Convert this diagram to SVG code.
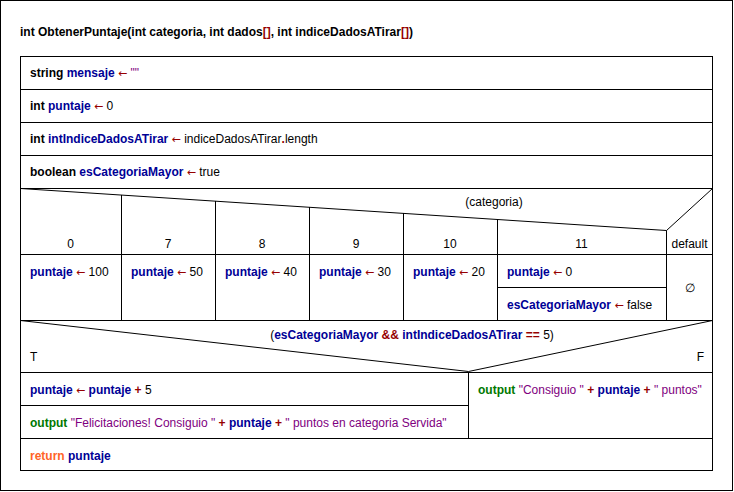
<svg xmlns="http://www.w3.org/2000/svg" width="734" height="492" viewBox="0 0 734 492">
<style>
.ln{fill:none;stroke:#000;stroke-width:1}
text{font-family:"Liberation Sans",Arial,sans-serif;font-size:12px;fill:#000}
.b{font-weight:bold}
.v{fill:#000096;font-weight:bold}
.op{fill:#960000;font-weight:bold}
.ar{fill:#960000;font-family:"DejaVu Sans",sans-serif;font-size:11px}
.s{fill:#800080}
.o{fill:#007800;font-weight:bold}
.r{fill:#FF6428;font-weight:bold}
.c{text-anchor:middle}
</style>
<rect x="0" y="0" width="734" height="492" fill="#fff"/>
<rect class="ln" x="0.5" y="0.5" width="732" height="490"/>
<g id="title">
<text x="20" y="36" class="b">int ObtenerPuntaje(int categoria, int dados<tspan class="op">[]</tspan>, int indiceDadosATirar<tspan class="op">[]</tspan>)</text>
</g>
<g id="frame">
<rect class="ln" x="20.5" y="56.5" width="692" height="414"/>
</g>
<g id="s1">
<line class="ln" x1="20" y1="89.5" x2="713" y2="89.5"/>
<text x="30" y="77"><tspan class="b">string </tspan><tspan class="v">mensaje</tspan> <tspan class="ar">←</tspan> <tspan class="s">""</tspan></text>
</g>
<g id="s2">
<line class="ln" x1="20" y1="122.5" x2="713" y2="122.5"/>
<text x="30" y="110"><tspan class="b">int </tspan><tspan class="v">puntaje</tspan> <tspan class="ar">←</tspan> 0</text>
</g>
<g id="s3">
<line class="ln" x1="20" y1="155.5" x2="713" y2="155.5"/>
<text x="30" y="143"><tspan class="b">int </tspan><tspan class="v">intIndiceDadosATirar</tspan> <tspan class="ar">←</tspan> indiceDadosATirar<tspan class="op">.</tspan>length</text>
</g>
<g id="s4">
<line class="ln" x1="20" y1="188.5" x2="713" y2="188.5"/>
<text x="30" y="176"><tspan class="b">boolean </tspan><tspan class="v">esCategoriaMayor</tspan> <tspan class="ar">←</tspan> true</text>
</g>
<g id="switch">
<polyline class="ln" points="20.5,188.5 666.5,230.5 712.5,188.5"/>
<line class="ln" x1="666.5" y1="230.5" x2="666.5" y2="320"/>
<line class="ln" x1="20" y1="254.5" x2="713" y2="254.5"/>
<line class="ln" x1="20" y1="320.5" x2="713" y2="320.5"/>
<line class="ln" x1="121.5" y1="195" x2="121.5" y2="320"/>
<line class="ln" x1="215.5" y1="201" x2="215.5" y2="320"/>
<line class="ln" x1="309.5" y1="207" x2="309.5" y2="320"/>
<line class="ln" x1="403.5" y1="213" x2="403.5" y2="320"/>
<line class="ln" x1="497.5" y1="219.5" x2="497.5" y2="320"/>
<line class="ln" x1="497" y1="287.5" x2="666" y2="287.5"/>
<text x="494" y="206" class="c">(categoria)</text>
<text x="70.5" y="248" class="c">0</text>
<text x="168" y="248" class="c">7</text>
<text x="262" y="248" class="c">8</text>
<text x="356" y="248" class="c">9</text>
<text x="450" y="248" class="c">10</text>
<text x="581.5" y="248" class="c">11</text>
<text x="689.5" y="248" class="c">default</text>
<text x="30" y="276"><tspan class="v">puntaje</tspan> <tspan class="ar">←</tspan> 100</text>
<text x="131" y="276"><tspan class="v">puntaje</tspan> <tspan class="ar">←</tspan> 50</text>
<text x="225" y="276"><tspan class="v">puntaje</tspan> <tspan class="ar">←</tspan> 40</text>
<text x="319" y="276"><tspan class="v">puntaje</tspan> <tspan class="ar">←</tspan> 30</text>
<text x="413" y="276"><tspan class="v">puntaje</tspan> <tspan class="ar">←</tspan> 20</text>
<text x="507" y="276"><tspan class="v">puntaje</tspan> <tspan class="ar">←</tspan> 0</text>
<text x="507" y="309"><tspan class="v">esCategoriaMayor</tspan> <tspan class="ar">←</tspan> false</text>
<text x="689.5" y="292" class="c">∅</text>
</g>
<g id="if">
<polyline class="ln" points="20.5,320.5 468.5,371.5 712.5,320.5"/>
<line class="ln" x1="20" y1="372.5" x2="713" y2="372.5"/>
<line class="ln" x1="468.5" y1="372" x2="468.5" y2="438"/>
<line class="ln" x1="20" y1="405.5" x2="468" y2="405.5"/>
<line class="ln" x1="20" y1="438.5" x2="713" y2="438.5"/>
<text x="412" y="339" class="c">(<tspan class="v">esCategoriaMayor</tspan> <tspan class="op">&amp;&amp;</tspan> <tspan class="v">intIndiceDadosATirar</tspan> <tspan class="op">==</tspan> 5)</text>
<text x="30" y="361">T</text>
<text x="704" y="361" text-anchor="end">F</text>
<text x="30" y="394"><tspan class="v">puntaje</tspan> <tspan class="ar">←</tspan> <tspan class="v">puntaje</tspan> <tspan class="op">+</tspan> 5</text>
<text x="30" y="427"><tspan class="o">output</tspan> <tspan class="s">"Felicitaciones! Consiguio "</tspan> <tspan class="op">+</tspan> <tspan class="v">puntaje</tspan> <tspan class="op">+</tspan> <tspan class="s">" puntos en categoria Servida"</tspan></text>
<text x="478" y="394"><tspan class="o">output</tspan> <tspan class="s">"Consiguio "</tspan> <tspan class="op">+</tspan> <tspan class="v">puntaje</tspan> <tspan class="op">+</tspan> <tspan class="s">" puntos"</tspan></text>
</g>
<g id="ret">
<text x="30" y="460"><tspan class="r">return</tspan> <tspan class="v">puntaje</tspan></text>
</g>
</svg>
